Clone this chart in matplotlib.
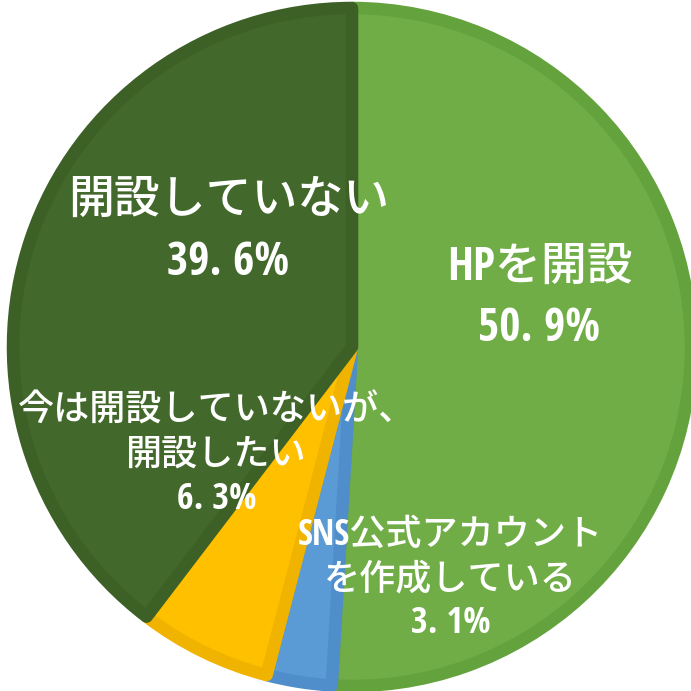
import matplotlib.pyplot as plt

# 開設状況の内訳
labels = ['HPを開設', 'SNS公式アカウント\nを作成している', '今は開設していないが、\n開設したい', '開設していない']
values = [50.9, 3.1, 6.3, 39.6]
colors = ['#70AD47', '#5B9BD5', '#FFC000', '#43682B']
edge_colors = ['#64A23D', '#4F8ECB', '#F0B400', '#3C6026']

plt.rcParams['font.family'] = ['Open Sans Condensed', 'Roboto Condensed', 'Noto Sans',
                               'Noto Sans CJK JP', 'DejaVu Sans']

fig = plt.figure(figsize=(6.91, 6.91), dpi=100)
cx, cy, r = 352, 347, 339
ax = fig.add_axes([(cx - r) / 691, (691 - cy - r) / 691, 2 * r / 691, 2 * r / 691])

wedges, _ = ax.pie(values, colors=colors, startangle=90, counterclock=False, radius=1.0)
for w, ec in zip(wedges, edge_colors):
    # 縁取りを扇形の内側だけに描く
    w.set_edgecolor(ec)
    w.set_linewidth(9)
    w.set_joinstyle('round')
    w.set_clip_path(w.get_path(), w.get_transform())

ax.set_xlim(-1, 1)
ax.set_ylim(-1, 1)
ax.set_aspect('equal')
ax.axis('off')

# ラベル位置 (データ座標)
label_pos = [(0.553, 0.144), (0.291, -0.688), (-0.40, -0.32), (-0.365, 0.341)]
label_size = [33, 26, 26, 33]
label_spacing = [1.4, 1.3, 1.3, 1.4]
for lab, v, (x, y), fs, ls in zip(labels, values, label_pos, label_size, label_spacing):
    pct = f'{v:.1f}'.replace('.', '. ') + '%'
    ax.text(x, y, f'{lab}\n{pct}', ha='center', va='center', multialignment='center',
            color='white', fontsize=fs, fontweight='medium', fontstretch='condensed',
            linespacing=ls)

fig.savefig('out.png', dpi=100)
